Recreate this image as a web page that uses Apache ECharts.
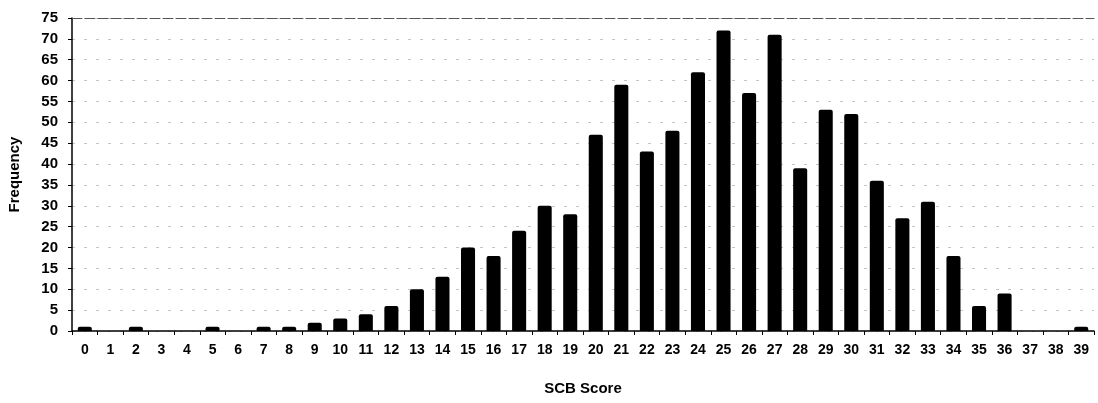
<!DOCTYPE html>
<html lang="en">
<head>
    <meta charset="UTF-8">
    <title>SCB Score frequency</title>
    <script src="https://cdn.jsdelivr.net/npm/echarts@6/dist/echarts.min.js"></script>
</head>
<body style="margin:0;background:#fff;">
<div id="mybox" style="height: 403px;width: 1098px;"></div>
<script>
    // 分数 0..39
    var scores = [];
    for (var i = 0; i <= 39; i++) { scores.push(String(i)); }
    // 频数
    var freq = [1, 0, 1, 0, 0, 1, 0, 1, 1, 2,
                3, 4, 6, 10, 13, 20, 18, 24, 30, 28,
                47, 59, 43, 48, 62, 72, 57, 71, 39, 53,
                52, 36, 27, 31, 18, 6, 9, 0, 0, 1];
    var yTicks = { min: 0, max: 75, step: 5 };

    var font = 'Liberation Sans, Arial, sans-serif';
    var mychart = echarts.init(document.getElementById('mybox'));
    mychart.setOption({
        animation: false,
        grid: { left: 72, right: 4, top: 18, bottom: 72, containLabel: false, outerBoundsMode: 'none' },
        xAxis: [{
            type: 'category',
            data: scores,
            name: 'SCB Score',
            nameLocation: 'middle',
            nameGap: 50,
            nameTextStyle: { fontFamily: font, fontWeight: 'bold', fontSize: 15, color: '#000' },
            axisLine: { lineStyle: { color: '#000', width: 1.5 } },
            axisTick: { show: true, length: 4, lineStyle: { color: '#000' } },
            axisLabel: { margin: 12, fontFamily: font, fontWeight: 'bold', fontSize: 14, color: '#000' }
        }, {
            // 顶部边线
            type: 'category',
            data: scores,
            position: 'top',
            axisLine: { show: true, lineStyle: { color: '#555', width: 1, type: [10, 3] } },
            axisTick: { show: false },
            axisLabel: { show: false }
        }],
        yAxis: {
            type: 'value',
            min: yTicks.min,
            max: yTicks.max,
            interval: yTicks.step,
            name: 'Frequency',
            nameLocation: 'middle',
            nameGap: 50,
            nameTextStyle: { fontFamily: font, fontWeight: 'bold', fontSize: 15, color: '#000' },
            axisLine: { show: true, lineStyle: { color: '#000', width: 1.5 } },
            axisTick: { show: true, length: 4, lineStyle: { color: '#000' } },
            axisLabel: { margin: 14, fontFamily: font, fontWeight: 'bold', fontSize: 15, color: '#000' },
            splitLine: { show: true, lineStyle: { color: '#c4c4c4', type: [3, 9], width: 1 } }
        },
        series: [{
            name: 'Frequency',
            type: 'bar',
            data: freq,
            barWidth: '55%',
            itemStyle: { color: '#000', borderRadius: [2, 2, 0, 0] }
        }]
    });
</script>
</body>
</html>
